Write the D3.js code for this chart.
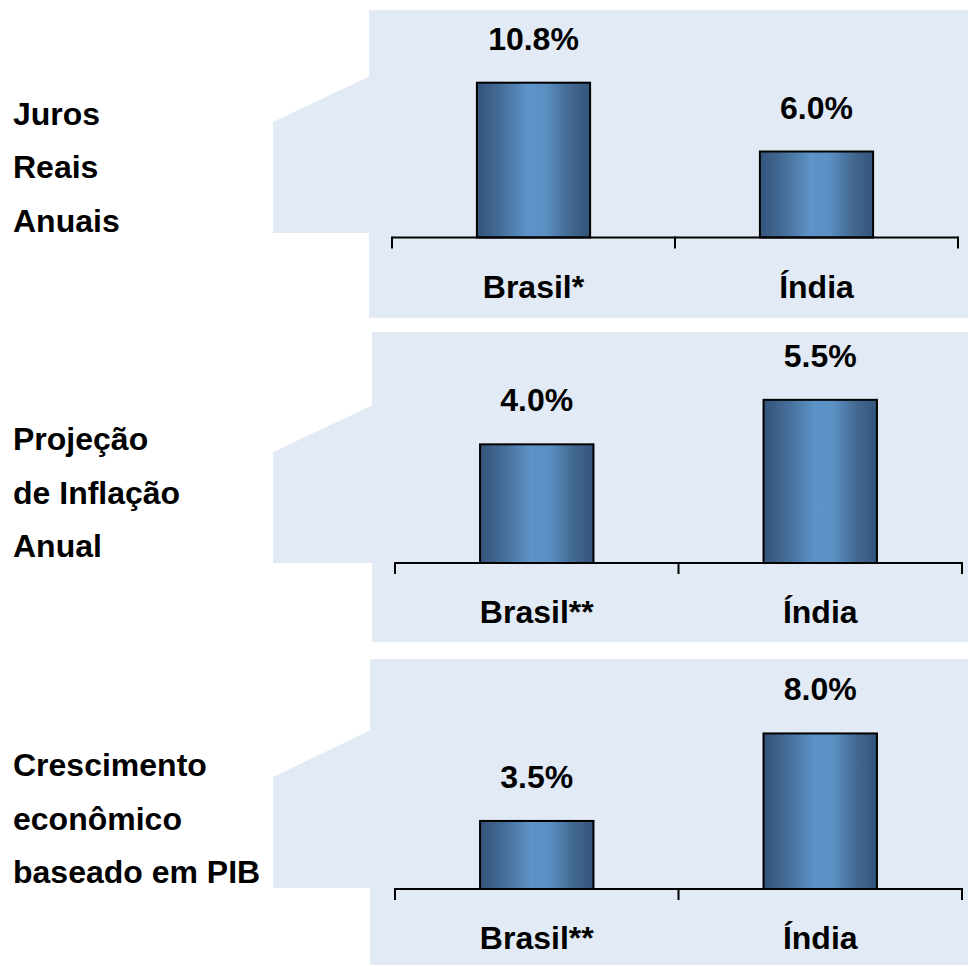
<!DOCTYPE html>
<html>
<head>
<meta charset="utf-8">
<script src="https://cdn.jsdelivr.net/npm/d3@7"></script>
<style>
  html, body { margin: 0; padding: 0; background: #fff; }
  svg text { font-family: Arial, "Liberation Sans", sans-serif; font-weight: bold; fill: #000; }
</style>
</head>
<body>
<div id="chart"></div>
<script>
// data
var titles = [
	["Juros", "Reais", "Anuais"],
	["Projeção", "de Inflação", "Anual"],
	["Crescimento", "econômico", "baseado em PIB"]
];
var categories = [
	["Brasil*", "Índia"],
	["Brasil**", "Índia"],
	["Brasil**", "Índia"]
];
var jurosReais = [10.8, 6.0];
var inflacao = [4.0, 5.5];
var crescimento = [3.5, 8.0];
var series = [jurosReais, inflacao, crescimento];

// layout of each panel (pixels)
var panels = [
	{ top: 10,  bottom: 318, left: 369, axisY: 237.5, cTop: 122, cJoin: 76,  cBottom: 233, x0: 392, x1: 958, plotH: 172, yMax: 12 },
	{ top: 332, bottom: 642, left: 372, axisY: 563,   cTop: 452, cJoin: 405, cBottom: 563, x0: 395, x1: 962, plotH: 178, yMax: 6 },
	{ top: 659, bottom: 965, left: 370, axisY: 889,   cTop: 777, cJoin: 730, cBottom: 888, x0: 395, x1: 962, plotH: 175, yMax: 9 }
];

var width = 968, height = 966;
var fmt = function(d) { return d3.format(".1f")(d) + "%"; };

var svg = d3.select("#chart").append("svg")
	.attr("width", width)
	.attr("height", height);

var defs = svg.append("defs");
var grad = defs.append("linearGradient")
	.attr("id", "barGrad")
	.attr("x1", "0%").attr("x2", "100%")
	.attr("y1", "0%").attr("y2", "0%");
grad.append("stop").attr("offset", "0%").attr("stop-color", "#33537a");
grad.append("stop").attr("offset", "22%").attr("stop-color", "#466f99");
grad.append("stop").attr("offset", "45%").attr("stop-color", "#5d93c9");
grad.append("stop").attr("offset", "62%").attr("stop-color", "#5a8fc3");
grad.append("stop").attr("offset", "80%").attr("stop-color", "#456c94");
grad.append("stop").attr("offset", "100%").attr("stop-color", "#33537a");

var bg = "#e1eaf5";

panels.forEach(function(p, i) {
	var g = svg.append("g");

	// background box + callout
	g.append("rect")
		.attr("x", p.left)
		.attr("y", p.top)
		.attr("width", width - p.left)
		.attr("height", p.bottom - p.top)
		.attr("fill", bg);
	g.append("polygon")
		.attr("points", [[273, p.cTop], [p.left + 1, p.cJoin], [p.left + 1, p.cBottom], [273, p.cBottom]].join(" "))
		.attr("fill", bg);

	// left title
	g.selectAll(".title")
		.data(titles[i])
		.enter().append("text")
		.attr("class", "title")
		.attr("x", 13)
		.attr("y", function(d, j) { return p.axisY - 113 + j * 53.5; })
		.style("font-size", "32px")
		.text(function(d) { return d; });

	var x = d3.scaleBand()
		.domain(categories[i])
		.range([p.x0, p.x1])
		.padding(0);
	var y = d3.scaleLinear()
		.domain([0, p.yMax])
		.range([p.axisY, p.axisY - p.plotH]);

	var data = categories[i].map(function(c, j) { return { cat: c, value: series[i][j] }; });
	var bw = x.step() * 0.4;

	// bars
	g.selectAll(".bar")
		.data(data)
		.enter().append("rect")
		.attr("class", "bar")
		.attr("x", function(d) { return x(d.cat) + (x.step() - bw) / 2; })
		.attr("y", function(d) { return y(d.value); })
		.attr("width", bw)
		.attr("height", function(d) { return y(0) - y(d.value); })
		.attr("fill", "url(#barGrad)")
		.attr("stroke", "#000")
		.attr("stroke-width", 2);

	// value labels
	g.selectAll(".val")
		.data(data)
		.enter().append("text")
		.attr("class", "val")
		.attr("x", function(d) { return x(d.cat) + x.step() / 2; })
		.attr("y", function(d) { return y(d.value) - 33; })
		.attr("text-anchor", "middle")
		.style("font-size", "32px")
		.text(function(d) { return fmt(d.value); });

	// x axis: baseline with ticks between categories
	var axis = d3.axisBottom(x)
		.tickSize(0)
		.tickPadding(0)
		.tickFormat("");
	var ax = g.append("g")
		.attr("transform", "translate(0," + p.axisY + ")")
		.call(axis);
	ax.select(".domain").remove();
	ax.append("line")
		.attr("x1", p.x0).attr("x2", p.x1)
		.attr("stroke", "#000").attr("stroke-width", 2);
	var bounds = categories[i].map(function(c) { return x(c); }).concat([p.x1]);
	ax.selectAll(".sep")
		.data(bounds)
		.enter().append("line")
		.attr("class", "sep")
		.attr("x1", function(d) { return d; })
		.attr("x2", function(d) { return d; })
		.attr("y1", -1)
		.attr("y2", 11)
		.attr("stroke", "#000")
		.attr("stroke-width", 2);

	// category labels
	g.selectAll(".cat")
		.data(categories[i])
		.enter().append("text")
		.attr("class", "cat")
		.attr("x", function(d) { return x(d) + x.step() / 2; })
		.attr("y", p.axisY + 60)
		.attr("text-anchor", "middle")
		.style("font-size", "32px")
		.text(function(d) { return d; });
});
</script>
</body>
</html>
